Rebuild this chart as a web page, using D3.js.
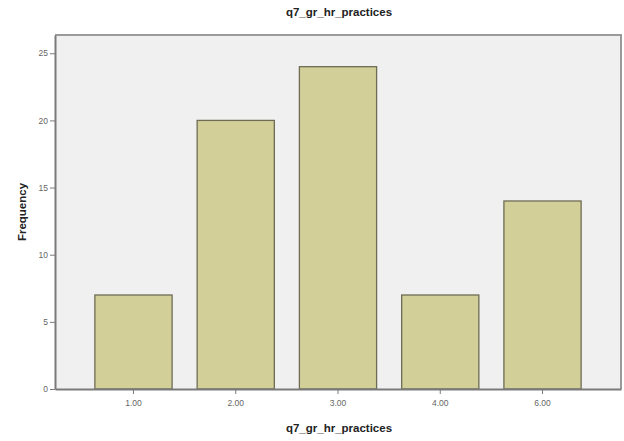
<!DOCTYPE html>
<html>
<head>
<meta charset="utf-8">
<script src="https://cdn.jsdelivr.net/npm/d3@7"></script>
<style>
  html, body { margin: 0; padding: 0; background: #ffffff; }
  svg { display: block; }
</style>
</head>
<body>
<svg id="chart" width="624" height="441"></svg>
<script>
const categories = ["1.00", "2.00", "3.00", "4.00", "6.00"];
const frequencies = [7, 20, 24, 7, 14];
const yTicks = [0, 5, 10, 15, 20, 25];
const chartTitle = "q7_gr_hr_practices";
const xTitle = "q7_gr_hr_practices";
const yTitle = "Frequency";

const svg = d3.select("#chart");
const plotLeft = 55, plotRight = 621, plotTop = 35, plotBottom = 389;

const x = d3.scaleBand().domain(categories).range([plotLeft, plotRight])
  .paddingInner(0.245).paddingOuter(0.39);
const y = d3.scaleLinear().domain([0, 26.36]).range([plotBottom, plotTop]);

// plot background
svg.append("rect").attr("x", plotLeft).attr("y", plotTop)
  .attr("width", plotRight - plotLeft).attr("height", plotBottom - plotTop)
  .attr("fill", "#f0f0f0");

// bars
svg.append("g").selectAll("rect").data(frequencies).join("rect")
  .attr("x", (d, i) => x(categories[i]))
  .attr("y", d => y(d))
  .attr("width", x.bandwidth())
  .attr("height", d => y(0) - y(d))
  .attr("fill", "#d3cf98")
  .attr("stroke", "#6e6c55")
  .attr("stroke-width", 1.3);

// frame (top and right)
svg.append("path")
  .attr("d", `M${plotLeft},${plotTop}H${plotRight}V${plotBottom}`)
  .attr("fill", "none").attr("stroke", "#9a9a9a").attr("stroke-width", 2);

// y axis
const yAxis = svg.append("g").attr("transform", `translate(${plotLeft},0)`)
  .call(d3.axisLeft(y).tickValues(yTicks).tickSize(5).tickSizeOuter(0).tickPadding(2));
yAxis.select(".domain").attr("stroke", "#7a7a7a").attr("stroke-width", 2);
yAxis.selectAll(".tick line").attr("stroke", "#7a7a7a");
yAxis.selectAll("text").attr("fill", "#666").style("font-family", "Arial, 'Liberation Sans', sans-serif").style("font-size", "8.5px");

// x axis
const xAxis = svg.append("g").attr("transform", `translate(0,${plotBottom})`)
  .call(d3.axisBottom(x).tickSize(5).tickPadding(6).tickSizeOuter(0));
xAxis.select(".domain").attr("stroke", "#7a7a7a").attr("stroke-width", 2);
xAxis.selectAll(".tick line").attr("stroke", "#7a7a7a");
xAxis.selectAll("text").attr("fill", "#666").style("font-family", "Arial, 'Liberation Sans', sans-serif").style("font-size", "8.5px");

// titles
svg.append("text").attr("x", 339).attr("y", 16).attr("text-anchor", "middle")
  .style("font-family", "Arial, 'Liberation Sans', sans-serif").style("font-size", "11.5px")
  .style("font-weight", "bold").attr("fill", "#222").text(chartTitle);

svg.append("text").attr("x", 339).attr("y", 432).attr("text-anchor", "middle")
  .style("font-family", "Arial, 'Liberation Sans', sans-serif").style("font-size", "11.5px")
  .style("font-weight", "bold").attr("fill", "#222").text(xTitle);

svg.append("text").attr("transform", "translate(26,212) rotate(-90)").attr("text-anchor", "middle")
  .style("font-family", "Arial, 'Liberation Sans', sans-serif").style("font-size", "11.5px")
  .style("font-weight", "bold").attr("fill", "#222").text(yTitle);
</script>
</body>
</html>
